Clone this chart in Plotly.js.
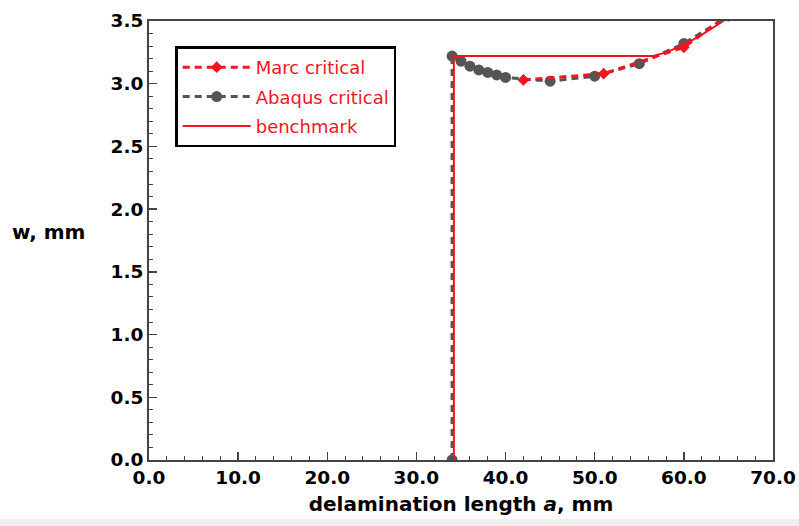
<!DOCTYPE html>
<html>
<head>
<meta charset="utf-8">
<script src="https://cdn.plot.ly/plotly-3.0.1.min.js"></script>
<style>html,body{margin:0;padding:0;background:#fff;}#chart{width:799px;height:526px;}</style>
</head>
<body>
<div id="chart"></div>
<script>
// Data
const marcX = [42, 51, 60, 65];
const marcY = [3.03, 3.08, 3.29, 3.55];

const abaqusX = [34, 34, 35, 36, 37, 38, 39, 40, 45, 50, 55, 60, 65];
const abaqusY = [0, 3.22, 3.18, 3.14, 3.11, 3.09, 3.07, 3.05, 3.02, 3.06, 3.16, 3.32, 3.54];

const benchX = [34.2, 34.2, 56.5, 58, 60, 62, 64, 66];
const benchY = [0, 3.22, 3.22, 3.25, 3.31, 3.39, 3.48, 3.58];

const xTickVals = [0, 10, 20, 30, 40, 50, 60, 70];
const yTickVals = [0, 0.5, 1, 1.5, 2, 2.5, 3, 3.5];

const RED = '#f2151f';
const GRAY = '#555555';

const traces = [
  {
    x: abaqusX, y: abaqusY, name: 'Abaqus critical', legendrank: 2, legendgroup: 'b',
    mode: 'lines+markers', type: 'scatter',
    line: {color: GRAY, width: 3, dash: '7px,5px'},
    marker: {color: GRAY, size: 11, symbol: 'circle'}
  },
  {
    x: marcX, y: marcY, name: 'Marc critical', legendrank: 1, legendgroup: 'a',
    mode: 'lines+markers', type: 'scatter',
    line: {color: RED, width: 3, dash: '7px,5px'},
    marker: {color: RED, size: 9, symbol: 'diamond'}
  },
  {
    x: benchX, y: benchY, name: 'benchmark', legendrank: 3, legendgroup: 'c',
    mode: 'lines', type: 'scatter',
    line: {color: RED, width: 2}
  }
];

const tickFont = {family: 'DejaVu Sans', size: 18.5, color: '#000', weight: 'bold'};

const layout = {
  width: 799, height: 526,
  margin: {l: 149, r: 26, t: 21, b: 66},
  paper_bgcolor: '#fff', plot_bgcolor: '#fff',
  showlegend: true,
  legend: {
    x: 0.042, y: 0.942, xanchor: 'left', yanchor: 'top',
    bgcolor: '#fff', bordercolor: '#000', borderwidth: 2.5,
    font: {family: 'DejaVu Sans', size: 18, color: RED},
    itemwidth: 68, traceorder: 'grouped', tracegroupgap: 3
  },
  xaxis: {
    range: [0, 70], tickvals: xTickVals, tickformat: '.1f',
    ticks: 'inside', ticklen: 8, tickwidth: 1.5, tickcolor: '#444',
    minor: {dtick: 2, ticks: 'inside', ticklen: 4, tickwidth: 1, tickcolor: '#444'},
    showline: true, linecolor: '#444', linewidth: 2, mirror: true,
    showgrid: false, zeroline: false, tickfont: tickFont,
    title: {text: '<b>delamination length <i>a</i>, mm</b>', font: {family: 'DejaVu Sans', size: 20, color: '#000'}, standoff: 10}
  },
  yaxis: {
    range: [0, 3.5], tickvals: yTickVals, tickformat: '.1f',
    ticks: 'inside', ticklen: 8, tickwidth: 1.5, tickcolor: '#444',
    minor: {dtick: 0.1, ticks: 'inside', ticklen: 4, tickwidth: 1, tickcolor: '#444'},
    showline: true, linecolor: '#444', linewidth: 2, mirror: true,
    showgrid: false, zeroline: false, tickfont: tickFont
  },
  annotations: [{
    text: '<b>w, mm</b>', xref: 'paper', yref: 'paper',
    x: -0.239 + 49/624, y: (460 - 232) / 439, xanchor: 'center', yanchor: 'middle',
    showarrow: false, font: {family: 'DejaVu Sans', size: 20, color: '#000'}
  }],
  shapes: [{
    type: 'rect', xref: 'paper', yref: 'paper', layer: 'below',
    x0: -0.25, x1: 1.06, y0: (460 - 519) / 439, y1: (460 - 530) / 439,
    fillcolor: '#f0f0f0', line: {width: 0}
  }]
};

Plotly.newPlot('chart', traces, layout, {displayModeBar: false, staticPlot: true});
</script>
</body>
</html>
